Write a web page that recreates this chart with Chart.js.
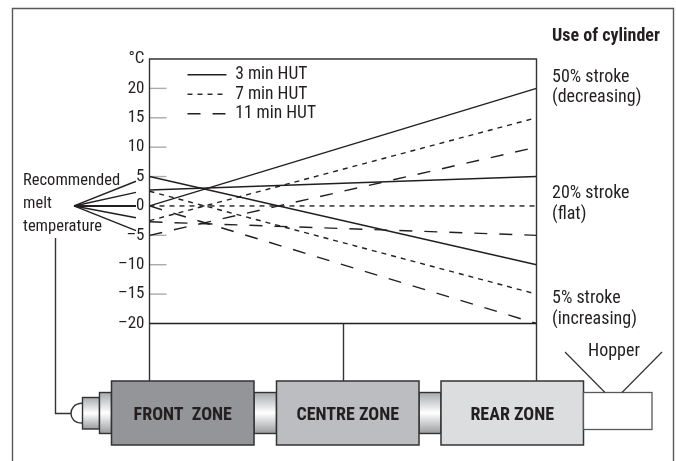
<!DOCTYPE html>
<html>
<head>
<meta charset="utf-8">
<style>html,body{margin:0;padding:0;background:#fff}#wrap{width:676px;height:461px;position:relative}</style>
<script src="https://cdn.jsdelivr.net/npm/chart.js@4/dist/chart.umd.min.js"></script>
</head>
<body>
<div id="wrap"><canvas id="c" width="676" height="461"></canvas></div>
<script>
const positions = ['Front zone', 'Rear zone'];
const hut3Decreasing = [0, 20];
const hut3Flat = [2.7, 5];
const hut3Increasing = [5, -10];
const hut7Decreasing = [-2.5, 15];
const hut7Flat = [0, 0];
const hut7Increasing = [2.5, -15];
const hut11Decreasing = [-5, 10];
const hut11Flat = [-2.7, -5];
const hut11Increasing = [0, -20];
const tickValues = [25, 20, 15, 10, 5, 0, -5, -10, -15, -20];
const fanEnds = [4.2, 2.3, 0, -2, -4.2];
const FONT = '"Roboto Condensed","Liberation Sans",sans-serif';
const INK = '#231f20';
const SIDE = '18px ' + FONT, LEFT = '16.5px ' + FONT, BOLD = 'bold 18px ' + FONT;
const notes = [
  ['Use of cylinder', 552, 41, BOLD],
  ['50% stroke', 552, 82, SIDE], ['(decreasing)', 552, 102, SIDE],
  ['20% stroke', 552, 198, SIDE], ['(flat)', 552, 219, SIDE],
  ['5% stroke', 552, 303, SIDE], ['(increasing)', 552, 324, SIDE],
  ['Recommended', 23, 185, LEFT], ['melt', 23, 208, LEFT], ['temperature', 23, 231, LEFT],
  ['Hopper', 588, 356, SIDE]
];
const zones = [
  ['FRONT  ZONE', 111.5, 254, '#939598'],
  ['CENTRE ZONE', 276.5, 419, '#bcbdc0'],
  ['REAR ZONE', 441, 583.5, '#dcddde']
];
function ds(label, data, dash) {
  return {label, data, borderColor: INK, backgroundColor: INK, borderWidth: 1.4, borderDash: dash,
          pointRadius: 0, tension: 0, fill: false};
}
const SOLID = [], SHORT = [5, 5], LONG = [13, 12];
const lineX = (ctx, pts, w, col) => {
  ctx.beginPath(); ctx.strokeStyle = col || '#333'; ctx.lineWidth = w || 1.4;
  pts.forEach((p, i) => i ? ctx.lineTo(p[0], p[1]) : ctx.moveTo(p[0], p[1])); ctx.stroke();
};
function pipe(ctx, x0, x1, y0, y1) {
  const g = ctx.createLinearGradient(0, y0, 0, y1);
  g.addColorStop(0, '#a7a9ac'); g.addColorStop(0.5, '#ffffff'); g.addColorStop(1, '#9a9c9f');
  ctx.fillStyle = g; ctx.fillRect(x0, y0, x1 - x0, y1 - y0);
  ctx.strokeStyle = '#333'; ctx.lineWidth = 1.4; ctx.strokeRect(x0, y0, x1 - x0, y1 - y0);
}
const moveLegend = {
  id: 'moveLegend',
  afterLayout(chart) {
    const l = chart.legend; const dx = 36, dy = 64;
    l.left += dx; l.right += dx; l.top += dy; l.bottom += dy;
  }
};
const diagram = {
  id: 'diagram',
  beforeDatasetsDraw(chart) {
    const ctx = chart.ctx, a = chart.chartArea, y = chart.scales.y;
    ctx.save();
    tickValues.forEach(v => {
      if (v === 25 || v === 0 || v === -20) return;
      const p = y.getPixelForValue(v);
      lineX(ctx, [[a.left, p], [a.left + 17, p]], 1.4, '#a9abae');
    });
    ctx.restore();
  },
  afterDraw(chart) {
    const ctx = chart.ctx, a = chart.chartArea, y = chart.scales.y;
    ctx.save();
    const bot = y.getPixelForValue(-20), zero = y.getPixelForValue(0);
    lineX(ctx, [[12.5, 461], [12.5, 8.5], [673.5, 8.5], [673.5, 461]], 1.4, '#58595b');
    lineX(ctx, [[a.left, 381], [a.left, a.top], [a.right, a.top], [a.right, 381]], 1.4, '#333');
    lineX(ctx, [[a.left, bot], [a.right, bot]], 1.5, '#231f20');
    lineX(ctx, [[343.5, bot], [343.5, 381]], 1.4, '#333');
    fanEnds.forEach(v => lineX(ctx, [[74, zero], [136, y.getPixelForValue(v)]], v === 0 ? 2 : 1.4, '#231f20'));
    lineX(ctx, [[55.5, 238], [55.5, 413.5], [71, 413.5]], 1.4, '#333');
    ctx.beginPath(); ctx.strokeStyle = '#333'; ctx.lineWidth = 1.4; ctx.fillStyle = '#fff';
    ctx.moveTo(82.5, 403.3); ctx.bezierCurveTo(74, 403.3, 71, 409, 71, 413.5);
    ctx.bezierCurveTo(71, 418, 74, 423, 82.5, 423); ctx.fill(); ctx.stroke();
    pipe(ctx, 82.5, 99.5, 397.5, 429);
    pipe(ctx, 99.5, 111.5, 392.5, 433.5);
    pipe(ctx, 254, 276.5, 392.5, 433.5);
    pipe(ctx, 419, 441, 392.5, 433.5);
    zones.forEach(z => {
      ctx.fillStyle = z[3]; ctx.fillRect(z[1], 381, z[2] - z[1], 64);
      ctx.strokeStyle = '#333'; ctx.lineWidth = 1.5; ctx.strokeRect(z[1], 381, z[2] - z[1], 64);
      ctx.fillStyle = INK; ctx.font = BOLD; ctx.textAlign = 'center'; ctx.textBaseline = 'alphabetic';
      ctx.fillText(z[0], (z[1] + z[2]) / 2, 419.5);
    });
    ctx.fillStyle = '#fff'; ctx.fillRect(583.5, 392.5, 68.5, 37);
    ctx.strokeStyle = '#58595b'; ctx.lineWidth = 1.3; ctx.strokeRect(583.5, 392.5, 68.5, 37);
    lineX(ctx, [[565, 352], [605, 392.5]], 1.2, '#333');
    lineX(ctx, [[662, 352], [622, 392.5]], 1.2, '#333');
    ctx.fillStyle = INK; ctx.textAlign = 'left'; ctx.textBaseline = 'alphabetic';
    notes.forEach(n => { ctx.font = n[3]; ctx.fillText(n[0], n[1], n[2]); });
    ctx.restore();
  }
};
new Chart(document.getElementById('c'), {
  type: 'line',
  data: {
    labels: positions,
    datasets: [
      ds('3 min HUT', hut3Decreasing, SOLID), ds('3 min HUT', hut3Flat, SOLID), ds('3 min HUT', hut3Increasing, SOLID),
      ds('7 min HUT', hut7Decreasing, SHORT), ds('7 min HUT', hut7Flat, SHORT), ds('7 min HUT', hut7Increasing, SHORT),
      ds('11 min HUT', hut11Decreasing, LONG), ds('11 min HUT', hut11Flat, LONG), ds('11 min HUT', hut11Increasing, LONG)
    ]
  },
  plugins: [moveLegend, diagram],
  options: {
    responsive: false,
    animation: false,
    events: [],
    layout: {padding: {left: 99.5, right: 139.5, top: 59, bottom: 137.5}},
    plugins: {
      title: {display: false},
      tooltip: {enabled: false},
      legend: {
        display: true,
        position: 'chartArea',
        align: 'start',
        labels: {
          color: INK,
          font: {family: FONT, size: 17.5},
          usePointStyle: true,
          pointStyle: 'line',
          pointStyleWidth: 39,
          boxWidth: 39,
          boxHeight: 12,
          padding: 2,
          filter: item => item.datasetIndex % 3 === 0,
          generateLabels(chart) {
            return Chart.defaults.plugins.legend.labels.generateLabels(chart).map(it => {
              it.lineDash = chart.data.datasets[it.datasetIndex].borderDash;
              it.lineWidth = 1.4;
              it.strokeStyle = INK;
              return it;
            });
          }
        }
      }
    },
    scales: {
      x: {display: false},
      y: {
        min: -20, max: 25,
        afterFit(s) { s.width = 50; },
        afterBuildTicks(s) { s.ticks = tickValues.map(value => ({value})); },
        border: {display: false},
        grid: {display: false, drawTicks: false},
        ticks: {
          padding: 5,
          color: INK,
          font: {family: FONT, size: 17},
          autoSkip: false,
          callback: v => v === 25 ? '°C' : (v < 0 ? '–' + Math.abs(v) : String(v))
        }
      }
    }
  }
});
</script>
</body>
</html>
